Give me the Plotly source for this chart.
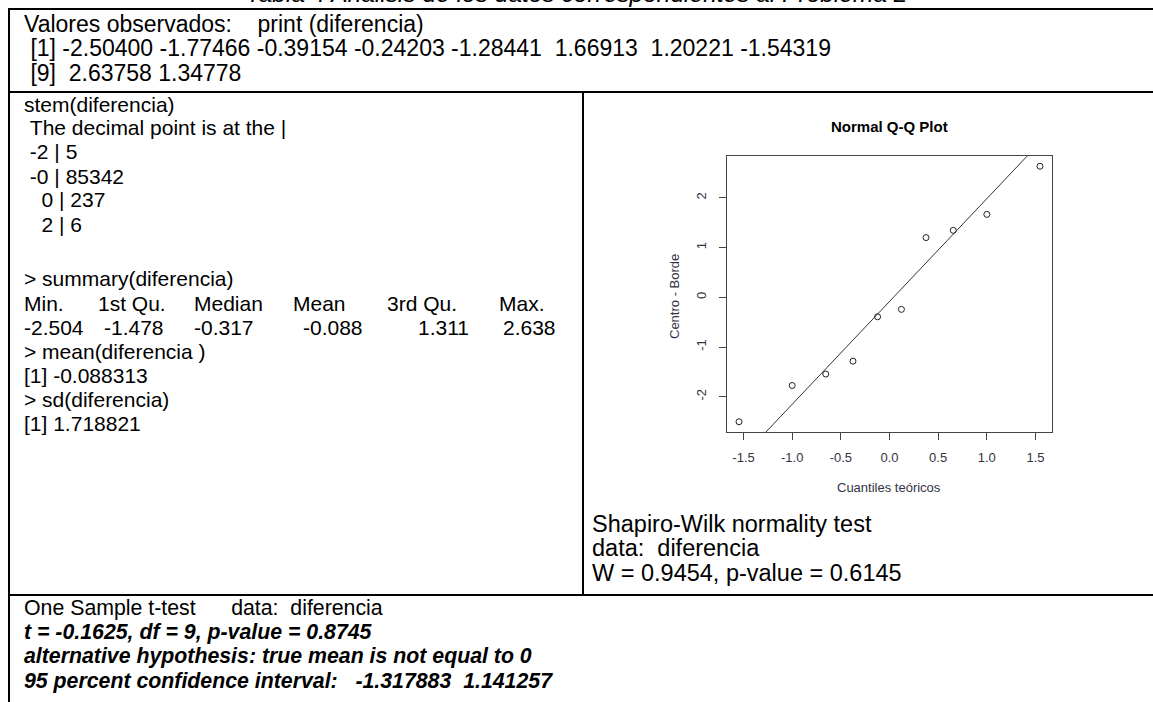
import numpy as np
import plotly.graph_objects as go

W, H = 1153, 702

# ---- data ----
observed = [-2.50400, -1.77466, -0.39154, -0.24203, -1.28441, 1.66913, 1.20221, -1.54319, 2.63758, 1.34778]
theoretical_q = [-1.5466, -1.0005, -0.6554, -0.3755, -0.1226, 0.1226, 0.3755, 0.6554, 1.0005, 1.5466]
x_ticks = [-1.5, -1.0, -0.5, 0.0, 0.5, 1.0, 1.5]
x_tick_labels = ["-1.5", "-1.0", "-0.5", "0.0", "0.5", "1.0", "1.5"]
y_ticks = [-2, -1, 0, 1, 2]
y_tick_labels = ["-2", "-1", "0", "1", "2"]
summary_heads = ["Min.", "1st Qu.", "Median", "Mean", "3rd Qu.", "Max."]
summary_vals = ["-2.504", "-1.478", "-0.317", "-0.088", "1.311", "2.638"]

sample_sorted = sorted(observed)
q1, q3 = np.percentile(observed, [25, 75])
z75 = 0.6745
slope = (q3 - q1) / (2 * z75)
intercept = q1 + z75 * slope

xr = [-1.6703, 1.6703]
yr = [-2.7097, 2.8437]
line_x = np.array(xr)
line_y = intercept + slope * line_x


def px(x):
    return x / W


def py(y):
    return 1 - y / H


fig = go.Figure()
fig.add_trace(go.Scatter(x=line_x, y=line_y, mode="lines",
                         line=dict(color="#333333", width=1), hoverinfo="skip"))
fig.add_trace(go.Scatter(x=theoretical_q, y=sample_sorted, mode="markers",
                         marker=dict(symbol="circle-open", size=6, color="#222222",
                                     line=dict(width=1, color="#222222"))))

FONT = "Arial"
ann = []


def txt(x, y, s, size=21, **kw):
    d = dict(x=px(x), y=py(y), xref="paper", yref="paper", text=s, showarrow=False,
             xanchor=kw.pop("xanchor", "left"), yanchor="middle",
             font=dict(family=FONT, size=size, color=kw.pop("color", "black")))
    d.update(kw)
    ann.append(d)


NB = "\u00a0"
TOP = 23
LEFT = 21
RIGHT = 23.5
BOT = 21.3
# cut-off caption
txt(577, -7, "<i>Tabla 4 Análisis de los datos correspondientes al Problema 2</i>", size=24.5, xanchor="center")
# top row
txt(22, 24, "Valores observados:" + NB * 4 + "print (diferencia)", size=TOP)
txt(22, 48, NB + "[1] -2.50400 -1.77466 -0.39154 -0.24203 -1.28441" + NB * 2 + "1.66913" + NB * 2 + "1.20221 -1.54319", size=TOP)
txt(22, 73, NB + "[9]" + NB * 2 + "2.63758" + NB + "1.34778", size=TOP)
# left column
left_lines = [
    (104, "stem(diferencia)"),
    (128, NB + "The decimal point is at the |"),
    (152, NB + "-2 | 5"),
    (176, NB + "-0 | 85342"),
    (200, NB * 3 + "0 | 237"),
    (224, NB * 3 + "2 | 6"),
    (279, "> summary(diferencia)"),
    (351, "> mean(diferencia )"),
    (375, "[1] -0.088313"),
    (399, "> sd(diferencia)"),
    (423, "[1] 1.718821"),
]
for y, s in left_lines:
    txt(22, y, s, size=LEFT)
head_x = [22, 96, 192, 291, 385, 497]
val_x = [22, 102, 192, 301, 416, 501]
for hx, h in zip(head_x, summary_heads):
    txt(hx, 303, h, size=LEFT)
for vx, v in zip(val_x, summary_vals):
    txt(vx, 327, v, size=LEFT)
# right column texts
txt(590, 524, "Shapiro-Wilk normality test", size=RIGHT)
txt(590, 548, "data:" + NB * 2 + "diferencia", size=RIGHT)
txt(590, 573, "W = 0.9454, p-value = 0.6145", size=RIGHT)
# bottom row
txt(22, 608, "One Sample t-test" + NB * 6 + "data:" + NB * 2 + "diferencia", size=BOT)
txt(22, 632, "<b><i>t = -0.1625, df = 9, p-value = 0.8745</i></b>", size=BOT)
txt(22, 656, "<b><i>alternative hypothesis: true mean is not equal to 0</i></b>", size=BOT)
txt(22, 681, "<b><i>95 percent confidence interval:" + NB * 3 + "-1.317883" + NB * 2 + "1.141257</i></b>", size=BOT)

# QQ plot labels
txt(889, 126, "<b>Normal Q-Q Plot</b>", size=15, xanchor="center")
txt(889, 487, "Cuantiles teóricos", size=13, xanchor="center", color="#333344")
txt(674, 297, "Centro - Borde", size=13, xanchor="center", color="#333344", textangle=-90)

# table lines
shapes = []


def hline(x0, x1, y):
    shapes.append(dict(type="line", xref="paper", yref="paper", x0=px(x0), x1=px(x1),
                       y0=py(y), y1=py(y), line=dict(color="black", width=2)))


def vline(x, y0, y1):
    shapes.append(dict(type="line", xref="paper", yref="paper", x0=px(x), x1=px(x),
                       y0=py(y0), y1=py(y1), line=dict(color="black", width=2)))


hline(8, W + 20, 9)
hline(8, W + 20, 92)
hline(8, W + 20, 595)
vline(9, 8, H + 20)
vline(583, 92, 595)

ax_common = dict(showgrid=False, zeroline=False, showline=True, mirror=True,
                 linecolor="#444444", linewidth=1, ticks="outside", ticklen=7,
                 tickcolor="#444444", tickfont=dict(family=FONT, size=13, color="#333344"))
fig.update_layout(
    width=W, height=H, margin=dict(l=0, r=0, t=0, b=0),
    paper_bgcolor="white", plot_bgcolor="white", showlegend=False,
    xaxis=dict(domain=[px(727), px(1052)], range=xr, tickvals=x_ticks, ticktext=x_tick_labels,
               ticklabelstandoff=6, **ax_common),
    yaxis=dict(domain=[py(432), py(156)], range=yr, tickvals=y_ticks, ticktext=y_tick_labels,
               tickangle=-90, ticklabelstandoff=8, **ax_common),
    annotations=ann, shapes=shapes,
)
fig.write_html("out.html", config={"displayModeBar": False},
               post_script="document.body.style.margin='0';")
